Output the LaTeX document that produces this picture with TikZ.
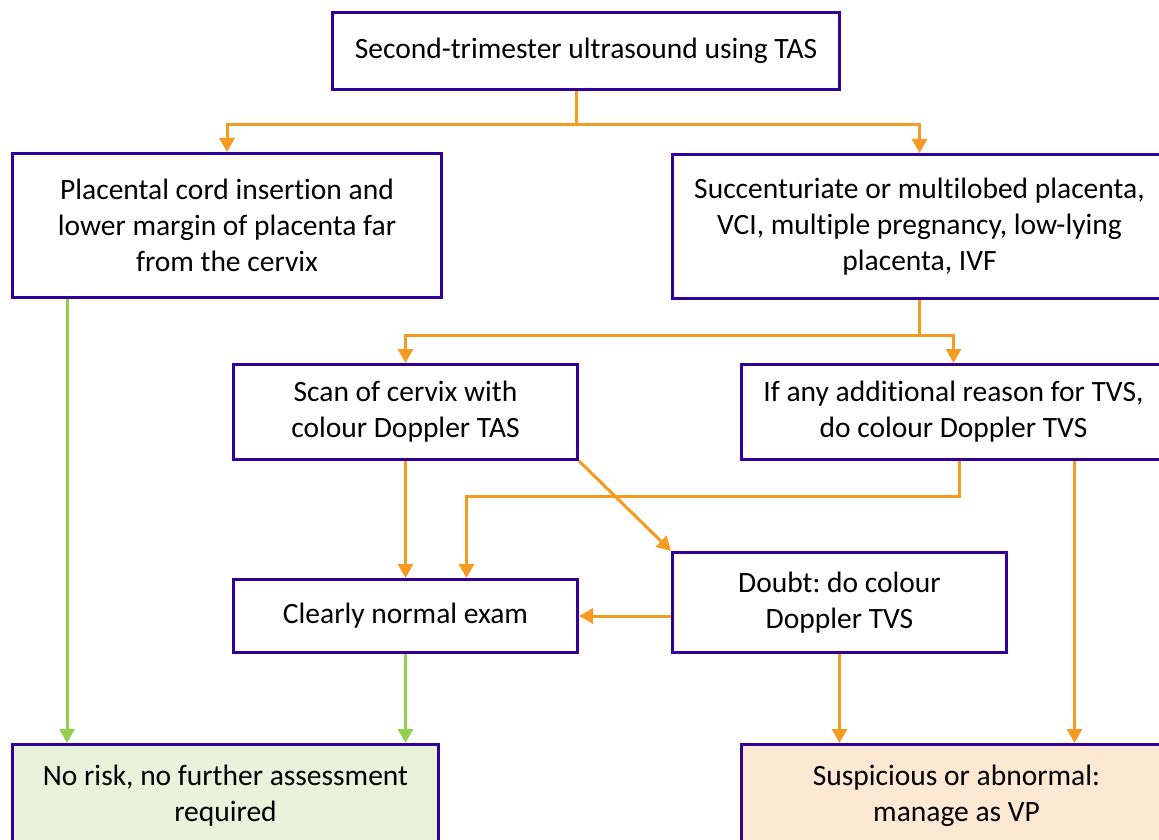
\documentclass[tikz,border=0pt]{standalone}
\usepackage{fontspec}
\setmainfont{Carlito}[Ligatures=NoCommon]
\frenchspacing
\usetikzlibrary{arrows.meta,calc}
\definecolor{bordc}{HTML}{330099}
\definecolor{oran}{HTML}{F79A20}
\definecolor{grn}{HTML}{92D050}
\definecolor{gfill}{HTML}{E9F3DC}
\definecolor{pfill}{HTML}{FDE8D3}
\tikzset{
  box/.style={draw=bordc, line width=3pt, fill=white, align=center, inner sep=0pt,
    font=\fontsize{29.5}{36}\selectfont, anchor=north west},
  oarr/.style={draw=oran, line width=3pt, -{Triangle[width=15pt,length=14pt]}},
  garr/.style={draw=grn, line width=3pt, -{Triangle[width=15pt,length=14pt]}},
  oline/.style={draw=oran, line width=3pt},
}
\begin{document}
\begin{tikzpicture}[x=1pt,y=-1pt]
\useasboundingbox (0,0) rectangle (1159,840);
\clip (0,0) rectangle (1159,840);
\node[box, minimum width=507pt, minimum height=77pt] (top) at (331,11) {Second-trimester ultrasound using TAS};
\node[box, minimum width=429pt, minimum height=144pt] (A) at (11,152) {Placental cord insertion and\\lower margin of placenta far\\from the cervix};
\node[box, minimum width=494pt, minimum height=144pt] (B) at (671,153) {Succenturiate or multilobed placenta,\\VCI, multiple pregnancy, low-lying\\placenta, IVF};
\node[box, minimum width=344pt, minimum height=95pt] (C) at (232,363) {Scan of cervix with\\colour Doppler TAS};
\node[box, minimum width=424pt, minimum height=95pt] (D) at (740,363) {If any additional reason for TVS,\\do colour Doppler TVS};
\node[box, minimum width=344pt, minimum height=73pt] (E) at (232,578) {Clearly normal exam};
\node[box, minimum width=334pt, minimum height=100pt] (F) at (671,551) {Doubt: do colour\\Doppler TVS};
\node[box, fill=gfill, minimum width=426pt, minimum height=102pt] (G) at (11,743) {No risk, no further assessment\\required};
\node[box, fill=pfill, minimum width=430pt, minimum height=102pt] (H) at (740,743) {Suspicious or abnormal:\\manage as VP};
% top to A,B
\draw[oline] ([xshift=-9.5pt]top.south) -- ++(0,34) coordinate (j1);
\draw[oarr] (j1) -| (A.north);
\draw[oarr] (j1) -| (B.north);
% B to C,D
\draw[oline] (B.south) -- ++(0,35) coordinate (j2);
\draw[oarr] (j2) -| (C.north);
\draw[oarr] (j2) -| (D.north);
% A to G
\coordinate (ag) at ([xshift=56pt]A.south west);
\draw[garr] (ag) -- (ag |- G.north);
% C to E
\draw[oarr] (C.south) -- (E.north);
% D to E
\coordinate (de) at ([xshift=6pt]D.south);
\coordinate (de2) at ([xshift=61pt]E.north);
\draw[oarr] (de) -- ++(0,35) -| (de2);
% C to F
\draw[oarr] (C.south east) -- (F.north west);
% F to E
\draw[oarr] (F.west |- E.east) -- (E.east);
% E to G
\draw[garr] (E.south) -- (E.south |- G.north);
% F to H
\draw[oarr] (F.south) -- (F.south |- H.north);
% D to H
\coordinate (dh) at ([xshift=121pt]D.south);
\draw[oarr] (dh) -- (dh |- H.north);
\end{tikzpicture}
\end{document}
